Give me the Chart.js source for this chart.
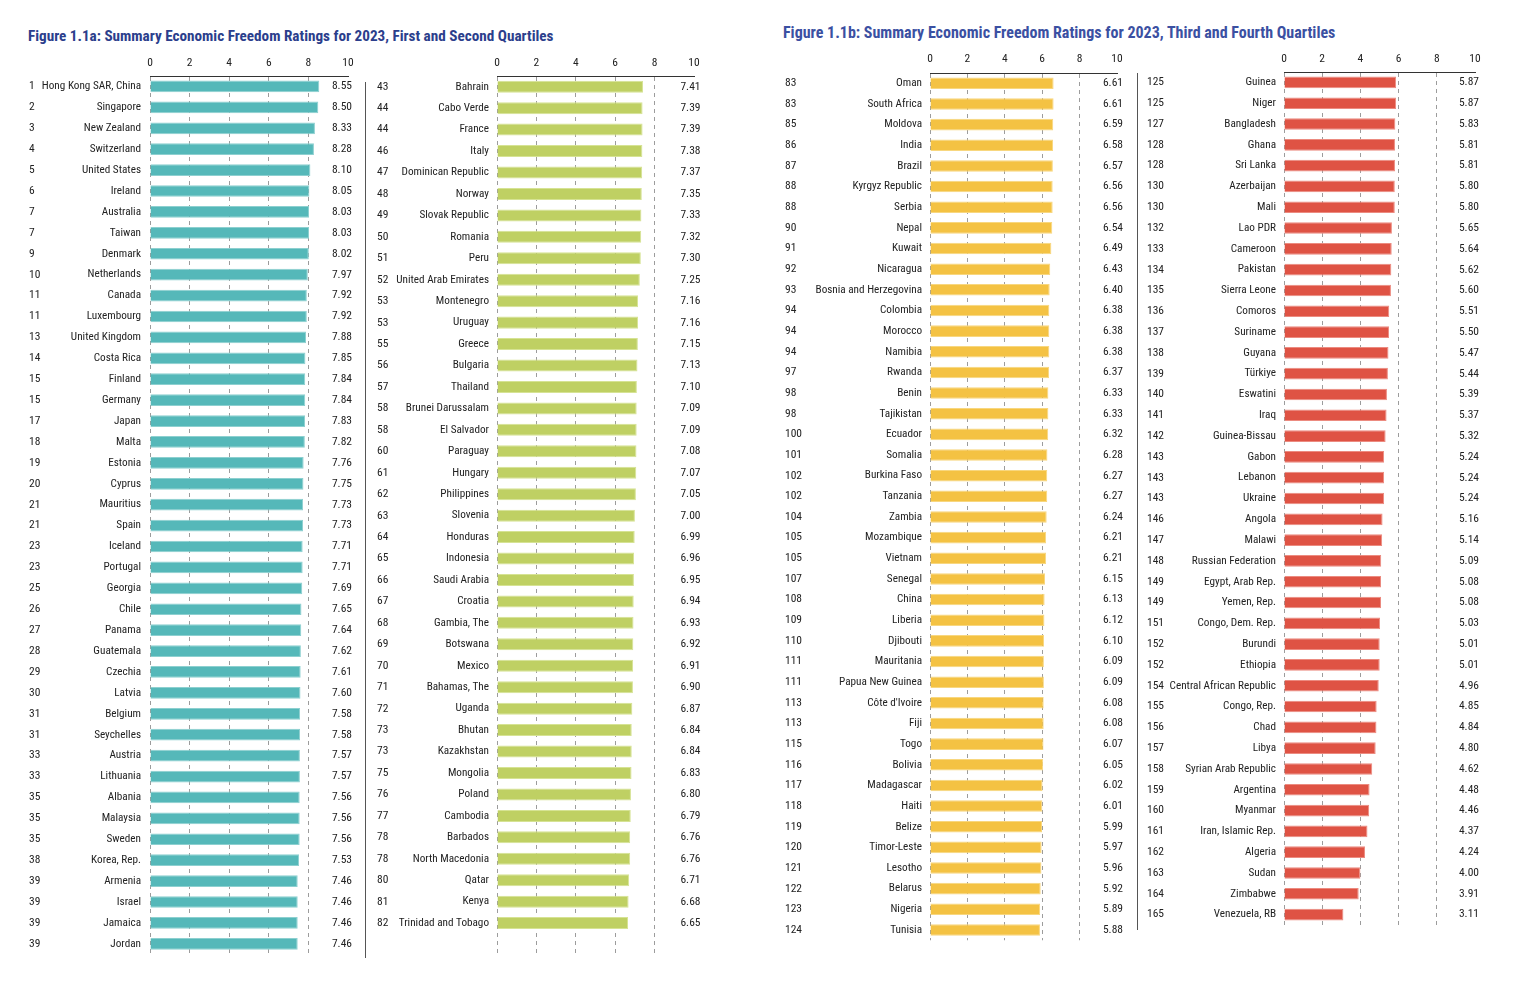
<!DOCTYPE html>
<html>
<head>
<meta charset="utf-8">
<script src="https://cdn.jsdelivr.net/npm/chart.js@4.4.0/dist/chart.umd.min.js"></script>
<style>
  body { margin: 0; background: #fff; width: 1514px; height: 982px; position: relative; overflow: hidden; }
  .title { position: absolute; font-family: 'Liberation Sans Narrow', 'Roboto Condensed', 'DejaVu Sans Condensed', sans-serif; font-weight: bold; white-space: nowrap; }
  canvas { position: absolute; }
  .sep { position: absolute; width: 1px; background: #555; }
</style>
</head>
<body>
<div class="title" style="left:28px;top:27px;font-size:15.2px;color:#2b3e8c">Figure 1.1a: Summary Economic Freedom Ratings for 2023, First and Second Quartiles</div>
<div class="title" style="left:783px;top:23px;font-size:16px;color:#3b50a2">Figure 1.1b: Summary Economic Freedom Ratings for 2023, Third and Fourth Quartiles</div>

<canvas id="c1" width="335" height="920" style="left:25px;top:50px"></canvas>
<canvas id="c2" width="340" height="920" style="left:372px;top:50px"></canvas>
<canvas id="c3" width="360" height="910" style="left:775px;top:45px"></canvas>
<canvas id="c4" width="370" height="900" style="left:1140px;top:45px"></canvas>

<div class="sep" style="left:365px;top:82px;height:876px"></div>
<div class="sep" style="left:1137px;top:73px;height:857px"></div>

<script>
// first quartile
const q1Ranks = [1, 2, 3, 4, 5, 6, 7, 7, 9, 10, 11, 11, 13, 14, 15, 15, 17, 18, 19, 20, 21,
  21, 23, 23, 25, 26, 27, 28, 29, 30, 31, 31, 33, 33, 35, 35, 35, 38, 39, 39, 39, 39];
const q1Countries = ["Hong Kong SAR, China", "Singapore", "New Zealand", "Switzerland", "United States",
  "Ireland", "Australia", "Taiwan", "Denmark", "Netherlands", "Canada", "Luxembourg", "United Kingdom",
  "Costa Rica", "Finland", "Germany", "Japan", "Malta", "Estonia", "Cyprus", "Mauritius", "Spain",
  "Iceland", "Portugal", "Georgia", "Chile", "Panama", "Guatemala", "Czechia", "Latvia", "Belgium",
  "Seychelles", "Austria", "Lithuania", "Albania", "Malaysia", "Sweden", "Korea, Rep.", "Armenia",
  "Israel", "Jamaica", "Jordan"];
const q1Scores = [8.55, 8.50, 8.33, 8.28, 8.10, 8.05, 8.03, 8.03, 8.02, 7.97, 7.92, 7.92, 7.88,
  7.85, 7.84, 7.84, 7.83, 7.82, 7.76, 7.75, 7.73, 7.73, 7.71, 7.71, 7.69, 7.65, 7.64, 7.62, 7.61,
  7.60, 7.58, 7.58, 7.57, 7.57, 7.56, 7.56, 7.56, 7.53, 7.46, 7.46, 7.46, 7.46];

// second quartile
const q2Ranks = [43, 44, 44, 46, 47, 48, 49, 50, 51, 52, 53, 53, 55, 56, 57, 58, 58, 60, 61, 62,
  63, 64, 65, 66, 67, 68, 69, 70, 71, 72, 73, 73, 75, 76, 77, 78, 78, 80, 81, 82];
const q2Countries = ["Bahrain", "Cabo Verde", "France", "Italy", "Dominican Republic", "Norway",
  "Slovak Republic", "Romania", "Peru", "United Arab Emirates", "Montenegro", "Uruguay", "Greece",
  "Bulgaria", "Thailand", "Brunei Darussalam", "El Salvador", "Paraguay", "Hungary", "Philippines",
  "Slovenia", "Honduras", "Indonesia", "Saudi Arabia", "Croatia", "Gambia, The", "Botswana", "Mexico",
  "Bahamas, The", "Uganda", "Bhutan", "Kazakhstan", "Mongolia", "Poland", "Cambodia", "Barbados",
  "North Macedonia", "Qatar", "Kenya", "Trinidad and Tobago"];
const q2Scores = [7.41, 7.39, 7.39, 7.38, 7.37, 7.35, 7.33, 7.32, 7.30, 7.25, 7.16, 7.16, 7.15,
  7.13, 7.10, 7.09, 7.09, 7.08, 7.07, 7.05, 7.00, 6.99, 6.96, 6.95, 6.94, 6.93, 6.92, 6.91, 6.90,
  6.87, 6.84, 6.84, 6.83, 6.80, 6.79, 6.76, 6.76, 6.71, 6.68, 6.65];

// third quartile
const q3Ranks = [83, 83, 85, 86, 87, 88, 88, 90, 91, 92, 93, 94, 94, 94, 97, 98, 98, 100, 101,
  102, 102, 104, 105, 105, 107, 108, 109, 110, 111, 111, 113, 113, 115, 116, 117, 118, 119, 120,
  121, 122, 123, 124];
const q3Countries = ["Oman", "South Africa", "Moldova", "India", "Brazil", "Kyrgyz Republic", "Serbia",
  "Nepal", "Kuwait", "Nicaragua", "Bosnia and Herzegovina", "Colombia", "Morocco", "Namibia", "Rwanda",
  "Benin", "Tajikistan", "Ecuador", "Somalia", "Burkina Faso", "Tanzania", "Zambia", "Mozambique",
  "Vietnam", "Senegal", "China", "Liberia", "Djibouti", "Mauritania", "Papua New Guinea",
  "Côte d'Ivoire", "Fiji", "Togo", "Bolivia", "Madagascar", "Haiti", "Belize", "Timor-Leste",
  "Lesotho", "Belarus", "Nigeria", "Tunisia"];
const q3Scores = [6.61, 6.61, 6.59, 6.58, 6.57, 6.56, 6.56, 6.54, 6.49, 6.43, 6.40, 6.38, 6.38,
  6.38, 6.37, 6.33, 6.33, 6.32, 6.28, 6.27, 6.27, 6.24, 6.21, 6.21, 6.15, 6.13, 6.12, 6.10, 6.09,
  6.09, 6.08, 6.08, 6.07, 6.05, 6.02, 6.01, 5.99, 5.97, 5.96, 5.92, 5.89, 5.88];

// fourth quartile
const q4Ranks = [125, 125, 127, 128, 128, 130, 130, 132, 133, 134, 135, 136, 137, 138, 139, 140,
  141, 142, 143, 143, 143, 146, 147, 148, 149, 149, 151, 152, 152, 154, 155, 156, 157, 158, 159,
  160, 161, 162, 163, 164, 165];
const q4Countries = ["Guinea", "Niger", "Bangladesh", "Ghana", "Sri Lanka", "Azerbaijan", "Mali",
  "Lao PDR", "Cameroon", "Pakistan", "Sierra Leone", "Comoros", "Suriname", "Guyana", "Türkiye",
  "Eswatini", "Iraq", "Guinea-Bissau", "Gabon", "Lebanon", "Ukraine", "Angola", "Malawi",
  "Russian Federation", "Egypt, Arab Rep.", "Yemen, Rep.", "Congo, Dem. Rep.", "Burundi", "Ethiopia",
  "Central African Republic", "Congo, Rep.", "Chad", "Libya", "Syrian Arab Republic", "Argentina",
  "Myanmar", "Iran, Islamic Rep.", "Algeria", "Sudan", "Zimbabwe", "Venezuela, RB"];
const q4Scores = [5.87, 5.87, 5.83, 5.81, 5.81, 5.80, 5.80, 5.65, 5.64, 5.62, 5.60, 5.51, 5.50,
  5.47, 5.44, 5.39, 5.37, 5.32, 5.24, 5.24, 5.24, 5.16, 5.14, 5.09, 5.08, 5.08, 5.03, 5.01, 5.01,
  4.96, 4.85, 4.84, 4.80, 4.62, 4.48, 4.46, 4.37, 4.24, 4.00, 3.91, 3.11];

const xTicks = [0, 2, 4, 6, 8, 10];

const FONT = "'Liberation Sans Narrow', 'Roboto Condensed', 'DejaVu Sans Condensed', sans-serif";
Chart.defaults.font.family = FONT;
Chart.defaults.color = '#222';

function panel(id, ranks, names, scores, fill, edge, g) {
  const blank = Array(g.blank || 0).fill('');
  const labels = names.concat(blank);
  const rankLabels = ranks.map(String).concat(blank);
  const valLabels = scores.map(v => v.toFixed(2)).concat(blank);

  new Chart(document.getElementById(id), {
    type: 'bar',
    data: {
      labels,
      datasets: [{
        data: scores,
        backgroundColor: fill,
        borderColor: edge,
        borderWidth: 1,
        barPercentage: 0.56,
        categoryPercentage: 1
      }]
    },
    options: {
      indexAxis: 'y',
      responsive: false,
      animation: false,
      layout: { padding: { left: g.padL, right: g.padR, top: 0, bottom: g.padB } },
      plugins: { legend: { display: false }, tooltip: { enabled: false } },
      scales: {
        x: {
          position: 'top',
          min: 0, max: 10,
          afterBuildTicks: s => { s.ticks = xTicks.map(v => ({ value: v })); },
          ticks: { padding: g.tickPad, font: { size: 11.5 }, color: '#222' },
          // no line at 10: the score column sits there
          grid: {
            color: c => (c.tick && c.tick.value === 10) ? 'rgba(0,0,0,0)' : '#9c9c9c',
            drawTicks: false
          },
          border: { display: true, color: '#333', width: 1, dash: [4, 4] },
          afterFit: s => { s.height = g.topH; }
        },
        y: {
          position: 'left',
          weight: 0,
          grid: { display: false, drawTicks: false },
          border: { display: false },
          ticks: { autoSkip: false, padding: g.namePad, font: { size: 11.2 }, color: '#222' },
          afterFit: s => { s.width = g.nameW; }
        },
        rank: {
          type: 'category',
          position: 'left',
          weight: 1,
          offset: true,
          labels: rankLabels,
          grid: { display: false, drawTicks: false },
          border: { display: false },
          ticks: { autoSkip: false, crossAlign: 'far', padding: 0, font: { size: 11.5 }, color: '#222' },
          afterFit: s => { s.width = g.rankW; }
        },
        // score column, mirrored so it may sit over the right end of the plot
        val: {
          type: 'category',
          position: 'right',
          offset: true,
          labels: valLabels,
          grid: { display: false, drawTicks: false },
          border: { display: false },
          ticks: { autoSkip: false, mirror: true, padding: g.valPad, font: { size: 11.5 }, color: '#222' },
          afterFit: s => { s.width = 0; }
        }
      }
    }
  });
}

panel('c1', q1Ranks, q1Countries, q1Scores, '#55b8b9', '#8dd0d0',
  { padL: 4, padR: 12, padB: 10, topH: 26, tickPad: 6, rankW: 13, nameW: 108, namePad: 9, valPad: 4 });
panel('c2', q2Ranks, q2Countries, q2Scores, '#bfd063', '#d6e394',
  { padL: 5, padR: 18, padB: 9, topH: 26, tickPad: 6, rankW: 18, nameW: 102, namePad: 8, valPad: 6.5, blank: 1 });
panel('c3', q3Ranks, q3Countries, q3Scores, '#f4c243', '#f8d77f',
  { padL: 10, padR: 18, padB: 9, topH: 28, tickPad: 6.5, rankW: 26, nameW: 119, namePad: 8, valPad: 6 });
panel('c4', q4Ranks, q4Countries, q4Scores, '#df5344', '#ec8b80',
  { padL: 7, padR: 35, padB: 20, topH: 27, tickPad: 5.5, rankW: 22, nameW: 115, namePad: 8, valPad: 4 });
</script>
</body>
</html>
